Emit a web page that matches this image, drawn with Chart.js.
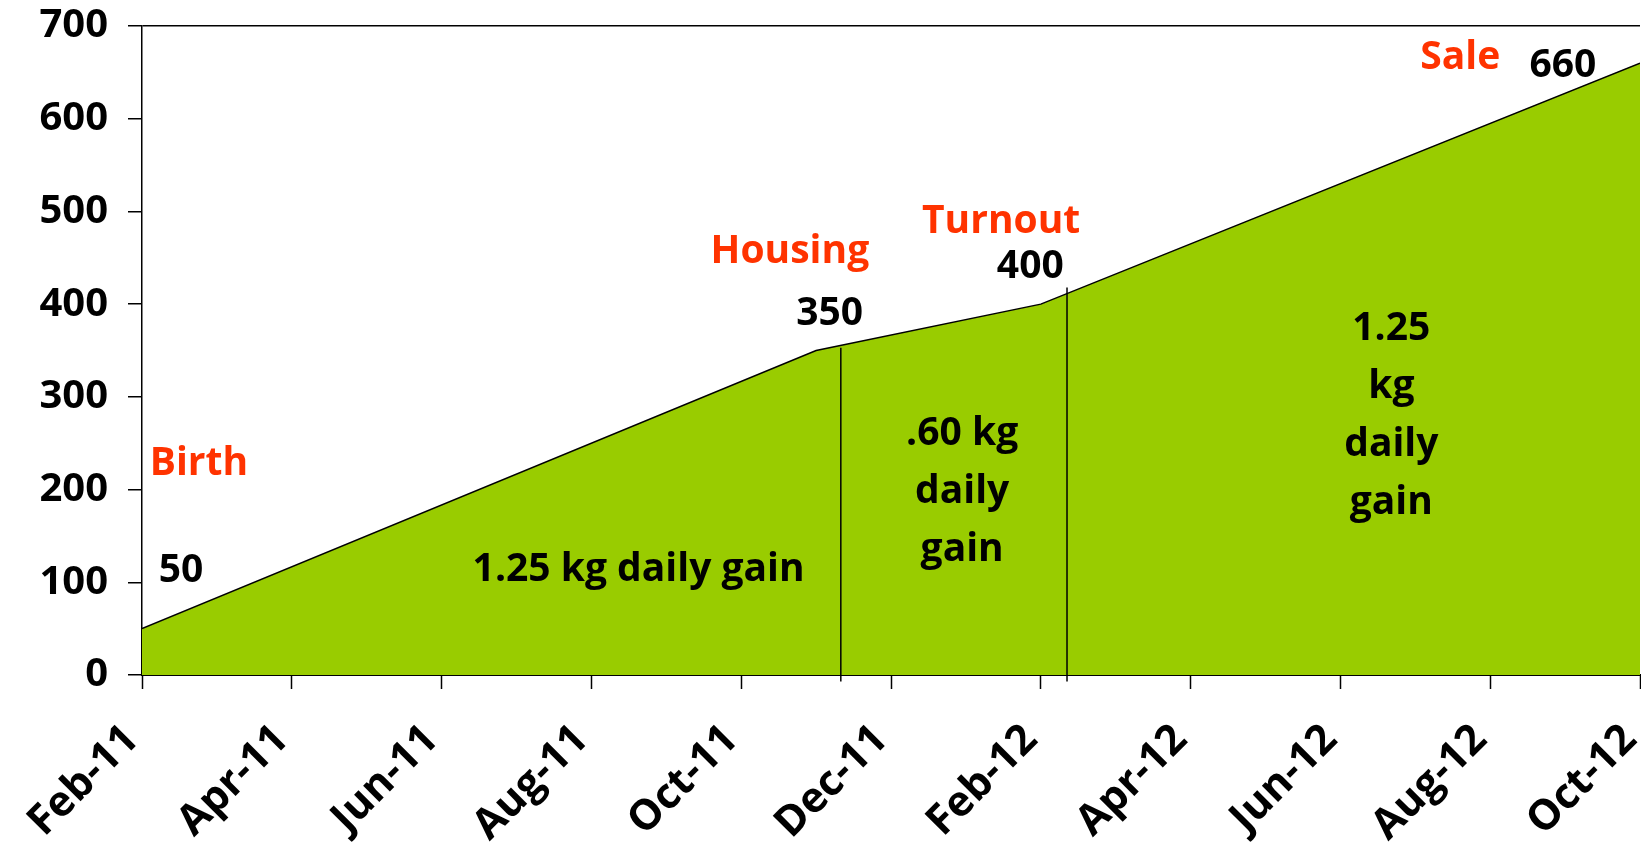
<!DOCTYPE html>
<html>
<head>
<meta charset="utf-8">
<script src="https://cdn.jsdelivr.net/npm/chart.js@4"></script>
<style>
  html, body { margin: 0; padding: 0; background: #fff; }
  #wrap { width: 1641px; height: 843px; }
</style>
</head>
<body>
<div id="wrap"><canvas id="grafica"></canvas></div>
<script>
// months since Feb-11 and live weight (kg)
const months = [0, 9, 12, 20];
const weights = [50, 350, 400, 660];

// x tick labels every 2 months
const tickLabels = ['Feb-11', 'Apr-11', 'Jun-11', 'Aug-11', 'Oct-11', 'Dec-11',
                    'Feb-12', 'Apr-12', 'Jun-12', 'Aug-12', 'Oct-12'];

// stage dividers (housing, turnout)
const dividerMonths = [9.33, 12.35];
const dividerTops = [353, 418];

// text labels placed in data space
const notes = [
    { text: ['Birth'], x: 0.76, y: 228, color: '#ff3300' },
    { text: ['50'], x: 0.52, y: 112, color: '#000' },
    { text: ['Housing'], x: 8.65, y: 456, color: '#ff3300' },
    { text: ['350'], x: 9.18, y: 389, color: '#000' },
    { text: ['Turnout'], x: 11.47, y: 489, color: '#ff3300' },
    { text: ['400'], x: 11.86, y: 440, color: '#000' },
    { text: ['Sale'], x: 17.6, y: 666, color: '#ff3300' },
    { text: ['660'], x: 18.97, y: 657, color: '#000' },
    { text: ['1.25 kg daily gain'], x: 6.63, y: 113, color: '#000' },
    { text: ['.60 kg', 'daily', 'gain'], x: 10.95, y: 197, color: '#000' },
    { text: ['1.25', 'kg', 'daily', 'gain'], x: 16.68, y: 280, color: '#000' }
];

const FONT = "'Open Sans', sans-serif";

const notasPlugin = {
    id: 'notas',
    afterDatasetsDraw(chart) {
        const c = chart.ctx;
        const xs = chart.scales.x, ys = chart.scales.y;
        c.save();
        c.font = 'bold 39px ' + FONT;
        c.textAlign = 'center';
        c.textBaseline = 'middle';
        notes.forEach(n => {
            const px = xs.getPixelForValue(n.x);
            const py = ys.getPixelForValue(n.y);
            const lh = 58;
            const y0 = py - (n.text.length - 1) * lh / 2;
            c.fillStyle = n.color;
            n.text.forEach((t, i) => c.fillText(t, px, y0 + i * lh));
        });
        c.restore();
    }
};

const serie = months.map((m, i) => ({ x: m, y: weights[i] }));

const datasets = [{
    data: serie,
    borderColor: '#000',
    borderWidth: 1.5,
    backgroundColor: '#99cc00',
    fill: 'origin',
    pointRadius: 0,
    tension: 0,
    order: 1
}];
dividerMonths.forEach((m, i) => {
    datasets.push({
        data: [{ x: m, y: -7 }, { x: m, y: dividerTops[i] }],
        borderColor: '#000',
        borderWidth: 1.5,
        pointRadius: 0,
        fill: false,
        clip: false,
        order: 0
    });
});

new Chart(document.getElementById('grafica'), {
    type: 'line',
    data: { datasets: datasets },
    options: {
        responsive: true,
        maintainAspectRatio: false,
        animation: false,
        layout: { padding: { top: 26, right: 1, left: 0, bottom: 0 } },
        plugins: { legend: { display: false }, tooltip: { enabled: false } },
        scales: {
            x: {
                type: 'linear',
                min: 0,
                max: 20,
                afterFit: s => { s.height = 168; s.paddingRight = 0; s.paddingLeft = 0; },
                border: { color: '#000', width: 2 },
                grid: { drawOnChartArea: false, tickLength: 14, tickColor: '#000', tickWidth: 1.5 },
                ticks: {
                    stepSize: 2,
                    maxRotation: 45,
                    minRotation: 45,
                    padding: 26,
                    labelOffset: -10,
                    color: '#000',
                    font: { family: FONT, size: 42, weight: 'bold' },
                    callback: v => tickLabels[v / 2]
                }
            },
            y: {
                min: 0,
                max: 700,
                afterFit: s => { s.width = 142; s.paddingTop = 0; s.paddingBottom = 0; },
                border: { color: '#000', width: 1.5 },
                grid: {
                    tickLength: 14,
                    tickColor: '#000',
                    tickWidth: 1.5,
                    color: ctx => ctx.tick && ctx.tick.value === 700 ? '#000' : 'rgba(0,0,0,0)',
                    lineWidth: 1.5
                },
                ticks: {
                    stepSize: 100,
                    padding: 20,
                    color: '#000',
                    font: { family: FONT, size: 40, weight: 'bold' }
                }
            }
        }
    },
    plugins: [notasPlugin]
});
</script>
</body>
</html>
